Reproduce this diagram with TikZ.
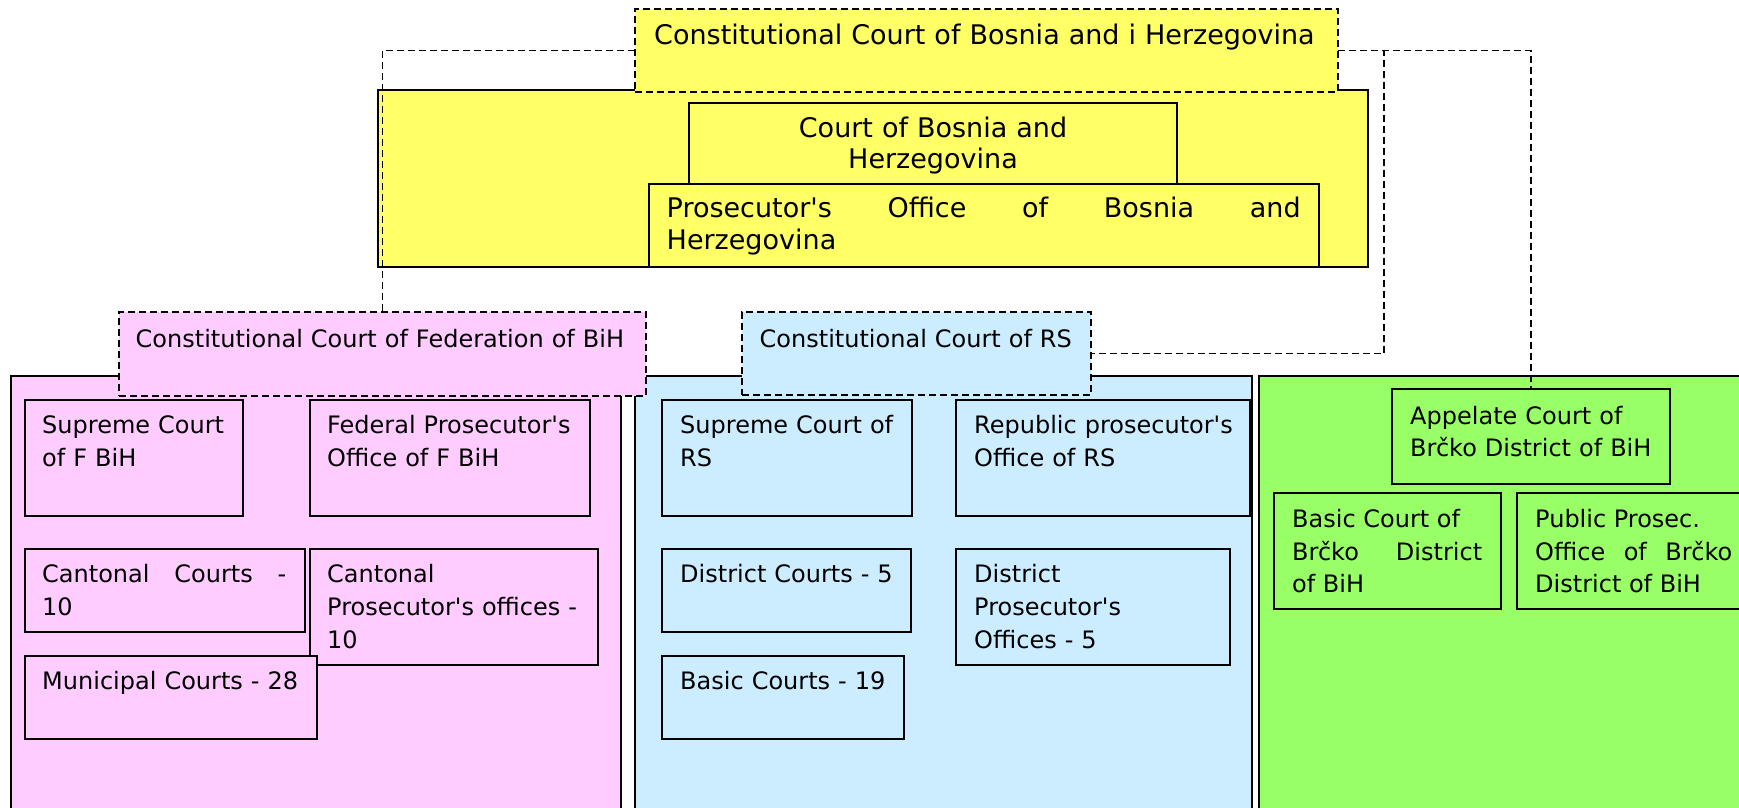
\documentclass[tikz,border=0pt]{standalone}
\usepackage{fontspec}
\setmainfont{DejaVu Sans}[Ligatures=TeXOff]
\tolerance=10000
\hyphenpenalty=10000
\definecolor{bihyellow}{HTML}{FFFF66}
\definecolor{fedpink}{HTML}{FFCCFF}
\definecolor{rsblue}{HTML}{CCECFF}
\definecolor{brcgreen}{HTML}{99FF66}
\tikzset{
  unit/.style={draw, line width=1.6pt, anchor=north west, inner sep=0pt, outer sep=0pt},
  constcourt/.style={unit, dash pattern=on 7pt off 4pt},
  txt/.style={anchor=base west, inner sep=0pt, align=left, font=\fontsize{24}{33}\selectfont},
  bigtxt/.style={txt, font=\fontsize{27}{31.7}\selectfont},
  gtxt/.style={txt, font=\fontsize{24}{32.5}\selectfont},
  link/.style={line width=1.6pt, dash pattern=on 7pt off 4pt}
}

\begin{document}
\begin{tikzpicture}[x=1pt, y=-1pt]
\useasboundingbox (0,0) rectangle (1739,807);
\clip (0,0) rectangle (1739,807);
% entities
\node[unit, fill=fedpink, minimum width=610, minimum height=460] (fed) at (11,376) {};
\node[unit, fill=rsblue, minimum width=617, minimum height=460] (rs) at (635,376) {};
\node[unit, fill=brcgreen, minimum width=500, minimum height=460] (brc) at (1259,376) {};

% federation
\node[unit, fill=fedpink, minimum width=218, minimum height=116] (supF) at (25,400) {};
\node[unit, fill=fedpink, minimum width=280, minimum height=116] (prosF) at (310,400) {};
\node[unit, fill=fedpink, minimum width=280, minimum height=83] (cantC) at (25,549) {};
\node[unit, fill=fedpink, minimum width=288, minimum height=116] (cantP) at (310,549) {};
\node[unit, fill=fedpink, minimum width=292, minimum height=83] (munC) at (25,656) {};
\node[txt, text width=200pt] (supF-t) at ([xshift=17pt, yshift=-33pt]supF.north west) {Supreme Court\\of F BiH};
\node[txt, text width=270pt] (prosF-t) at ([xshift=17pt, yshift=-33pt]prosF.north west) {Federal Prosecutor's\\Office of F BiH};
\node[txt, align=justify, text width=244pt] (cantC-t) at ([xshift=17pt, yshift=-33.5pt]cantC.north west) {Cantonal Courts -\linebreak 10};
\node[txt, text width=275pt] (cantP-t) at ([xshift=17pt, yshift=-33.5pt]cantP.north west) {Cantonal\\Prosecutor's offices -\\10};
\node[txt, text width=280pt] (munC-t) at ([xshift=17pt, yshift=-33.5pt]munC.north west) {Municipal Courts - 28};

% republika srpska
\node[unit, fill=rsblue, minimum width=250, minimum height=116] (supRS) at (662,400) {};
\node[unit, fill=rsblue, minimum width=294, minimum height=116] (prosRS) at (956,400) {};
\node[unit, fill=rsblue, minimum width=249, minimum height=83] (distC) at (662,549) {};
\node[unit, fill=rsblue, minimum width=274, minimum height=116] (distP) at (956,549) {};
\node[unit, fill=rsblue, minimum width=242, minimum height=83] (basC) at (662,656) {};
\node[txt, text width=240pt] (supRS-t) at ([xshift=18pt, yshift=-33pt]supRS.north west) {Supreme Court of\\RS};
\node[txt, text width=285pt] (prosRS-t) at ([xshift=18pt, yshift=-33pt]prosRS.north west) {Republic prosecutor's\\Office of RS};
\node[txt, text width=240pt] (distC-t) at ([xshift=18pt, yshift=-33.5pt]distC.north west) {District Courts - 5};
\node[txt, text width=260pt] (distP-t) at ([xshift=18pt, yshift=-33.5pt]distP.north west) {District\\Prosecutor's\\Offices - 5};
\node[txt, text width=230pt] (basC-t) at ([xshift=18pt, yshift=-33.5pt]basC.north west) {Basic Courts - 19};

% brcko district
\node[unit, fill=brcgreen, minimum width=278, minimum height=95] (app) at (1392,389) {};
\node[unit, fill=brcgreen, minimum width=227, minimum height=116] (basB) at (1274,493) {};
\node[unit, fill=brcgreen, minimum width=235, minimum height=116] (pubB) at (1517,493) {};
\node[gtxt, text width=270pt] (app-t) at ([xshift=18pt, yshift=-35pt]app.north west) {Appelate Court of\\Brčko District of BiH};
\node[gtxt, align=justify, text width=190pt] (basB-t) at ([xshift=18pt, yshift=-34.5pt]basB.north west) {Basic Court of\\Brčko District\linebreak of BiH};
\node[gtxt, align=justify, text width=197pt] (pubB-t) at ([xshift=18pt, yshift=-34.5pt]pubB.north west) {Public Prosec.\\Office of Brčko\linebreak District of BiH};

% state level
\node[unit, fill=bihyellow, minimum width=990, minimum height=177] (bih) at (378,90) {};
\node[unit, fill=bihyellow, minimum width=488, minimum height=82] (court) at (689,103) {};
\node[unit, fill=bihyellow, minimum width=670, minimum height=83] (pros) at (649,184) {};
\node[bigtxt, anchor=base, align=center, text width=488pt] (court-t) at ([yshift=-34pt]court.north) {Court of Bosnia and\\Herzegovina};
\node[bigtxt, align=justify, text width=634pt] (pros-t) at ([xshift=17.5pt, yshift=-33.4pt]pros.north west) {Prosecutor's Office of Bosnia and\linebreak Herzegovina};

% constitutional courts
\node[constcourt, fill=bihyellow, minimum width=703, minimum height=83] (cc) at (635,9) {};
\node[constcourt, fill=fedpink, minimum width=527, minimum height=84] (ccF) at (119,312) {};
\node[constcourt, fill=rsblue, minimum width=349, minimum height=83] (ccRS) at (742,312) {};
\node[bigtxt, text width=690pt] (cc-t) at ([xshift=19pt, yshift=-35.7pt]cc.north west) {Constitutional Court of Bosnia and i Herzegovina};
\node[txt, text width=510pt] (ccF-t) at ([xshift=16.5pt, yshift=-35pt]ccF.north west) {Constitutional Court of Federation of BiH};
\node[txt, text width=340pt] (ccRS-t) at ([xshift=17.5pt, yshift=-35pt]ccRS.north west) {Constitutional Court of RS};

% links
\draw[link] (cc.west) -| (ccF.north);
\draw[link] (cc.east) -| (app.north);
\draw[link] (cc.east) -- ++(46,0) |- (ccRS.east);
\end{tikzpicture}
\end{document}
